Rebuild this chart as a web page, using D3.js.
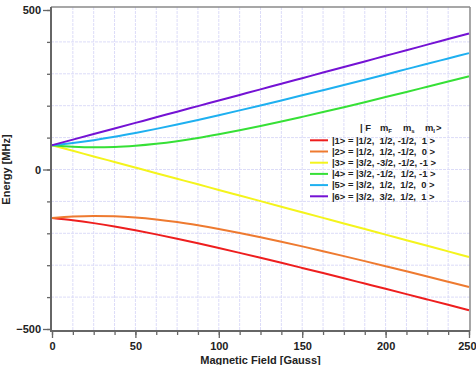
<!DOCTYPE html>
<html>
<head>
<meta charset="utf-8">
<script src="https://cdn.jsdelivr.net/npm/d3@7"></script>
<style>
  html, body { margin: 0; padding: 0; background: #fff; }
  svg { display: block; font-family: "Liberation Sans", Arial, sans-serif; }
</style>
</head>
<body>
<svg id="chart" width="476" height="365"></svg>
<script>
// Magnetic field values (Gauss)
const field = [0, 12.5, 25, 37.5, 50, 62.5, 75, 87.5, 100, 112.5, 125, 137.5, 150, 162.5, 175, 187.5, 200, 212.5, 225, 237.5, 250];
// Energies (MHz)
const state1 = [-152.1, -159.1, -168.1, -178.7, -190.5, -203.4, -217.1, -231.4, -246.2, -261.3, -276.8, -292.6, -308.6, -324.7, -341.0, -357.5, -374.0, -390.6, -407.4, -424.2, -441.0];
const state2 = [-152.1, -147.5, -145.6, -146.6, -150.3, -156.5, -164.8, -174.9, -186.3, -198.9, -212.3, -226.4, -241.0, -256.1, -271.5, -287.2, -303.1, -319.2, -335.4, -351.8, -368.3];
const state3 = [76.1, 58.6, 41.0, 23.5, 6.0, -11.5, -29.0, -46.5, -64.1, -81.6, -99.1, -116.6, -134.1, -151.6, -169.1, -186.7, -204.2, -221.7, -239.2, -256.7, -274.2];
const state4 = [76.1, 71.5, 69.6, 70.5, 74.2, 80.4, 88.7, 98.8, 110.3, 122.8, 136.3, 150.3, 165.0, 180.0, 195.4, 211.1, 227.0, 243.1, 259.4, 275.7, 292.3];
const state5 = [76.1, 83.0, 92.0, 102.6, 114.5, 127.3, 141.0, 155.3, 170.1, 185.3, 200.8, 216.5, 232.5, 248.7, 265.0, 281.4, 297.9, 314.6, 331.3, 348.1, 364.9];
const state6 = [76.1, 93.6, 111.1, 128.6, 146.1, 163.6, 181.2, 198.7, 216.2, 233.7, 251.2, 268.8, 286.3, 303.8, 321.3, 338.8, 356.3, 373.8, 391.4, 408.9, 426.4];

const seriesNames = ["|1> = |1/2,  1/2, -1/2,  1 >", "|2> = |1/2,  1/2, -1/2,  0 >", "|3> = |3/2, -3/2, -1/2, -1 >", "|4> = |3/2, -1/2,  1/2, -1 >", "|5> = |3/2,  1/2,  1/2,  0 >", "|6> = |3/2,  3/2,  1/2,  1 >"];
const seriesColors = ["#ee1e1e", "#ee7a30", "#f4f41c", "#36e036", "#1eb0f0", "#7412d4"];
const seriesValues = [state1, state2, state3, state4, state5, state6];

const xMajorTicks = [0, 50, 100, 150, 200, 250];
const xMinorTicks = d3.range(0, 250.1, 12.5);
const yMajorTicks = [-500, 0, 500];
const yMinorTicks = d3.range(-500, 500.1, 100);

const svg = d3.select("#chart");
const x = d3.scaleLinear().domain([0, 250]).range([52, 469]);
const y = d3.scaleLinear().domain([-500, 500]).range([329, 10]);
const plotL = 51, plotR = 470, plotT = 7, plotB = 331;

// grid
const grid = svg.append("g");
grid.selectAll(".vg").data(xMinorTicks.filter(d => d > 0 && d < 250)).join("line")
  .attr("x1", d => x(d)).attr("x2", d => x(d)).attr("y1", plotT).attr("y2", plotB)
  .attr("stroke", "#dcdcf8").attr("stroke-width", 1).attr("stroke-dasharray", "3,1");
grid.selectAll(".hg").data(yMinorTicks.filter(d => d > -500 && d < 500)).join("line")
  .attr("x1", plotL).attr("x2", plotR).attr("y1", d => y(d)).attr("y2", d => y(d))
  .attr("stroke", "#dcdcf8").attr("stroke-width", 1).attr("stroke-dasharray", "3,1");

// frame top/right
svg.append("line").attr("x1", plotL).attr("x2", plotR).attr("y1", plotT).attr("y2", plotT)
  .attr("stroke", "#8a8a8a").attr("stroke-width", 1.5);
svg.append("line").attr("x1", plotR).attr("x2", plotR).attr("y1", plotT).attr("y2", plotB)
  .attr("stroke", "#8a8a8a").attr("stroke-width", 1.5);

// curves
const line = d3.line().x((d, i) => x(field[i])).y(d => y(d)).curve(d3.curveMonotoneX);
seriesValues.forEach((vals, k) => {
  svg.append("path").datum(vals).attr("d", line).attr("fill", "none")
    .attr("stroke", seriesColors[k]).attr("stroke-width", 2);
});

// axes
const axisColor = "#666";
const xAxisMinor = svg.append("g").attr("transform", `translate(0,${plotB})`)
  .call(d3.axisBottom(x).tickValues(xMinorTicks).tickSize(4).tickFormat(""));
const xAxis = svg.append("g").attr("transform", `translate(0,${plotB})`)
  .call(d3.axisBottom(x).tickValues(xMajorTicks).tickSize(7).tickPadding(4).tickFormat(d3.format("d")));
const yAxisMinor = svg.append("g").attr("transform", `translate(${plotL},0)`)
  .call(d3.axisLeft(y).tickValues(yMinorTicks).tickSize(4).tickFormat(""));
const yAxis = svg.append("g").attr("transform", `translate(${plotL},0)`)
  .call(d3.axisLeft(y).tickValues(yMajorTicks).tickSize(8).tickPadding(2).tickFormat(d3.format("d")));
[xAxisMinor, xAxis, yAxisMinor, yAxis].forEach(g => {
  g.select(".domain").remove();
  g.selectAll(".tick line").attr("stroke", axisColor).attr("stroke-width", 1.3);
  g.selectAll("text").attr("font-size", 11).attr("font-weight", "bold").attr("fill", "#222")
    .attr("font-family", "'Liberation Sans', Arial, sans-serif");
});
// keep the last x label inside the window
xAxis.selectAll(".tick text").filter(d => d === 250).attr("text-anchor", "end").attr("x", 7);
svg.append("line").attr("x1", plotL).attr("x2", plotL).attr("y1", plotT).attr("y2", plotB + 1)
  .attr("stroke", axisColor).attr("stroke-width", 2);
svg.append("line").attr("x1", plotL).attr("x2", plotR).attr("y1", plotB).attr("y2", plotB)
  .attr("stroke", axisColor).attr("stroke-width", 2);

// axis titles
svg.append("text").attr("x", (x(0) + x(250)) / 2).attr("y", 364).attr("text-anchor", "middle")
  .attr("font-size", 11).attr("font-weight", "bold").attr("fill", "#222").text("Magnetic Field [Gauss]");
svg.append("text").attr("transform", `translate(10,${(y(500) + y(-500)) / 2}) rotate(-90)`)
  .attr("text-anchor", "middle").attr("font-size", 11).attr("font-weight", "bold").attr("fill", "#222")
  .text("Energy [MHz]");

// legend
const lg = svg.append("g").attr("font-size", 9.4).attr("font-weight", "bold").attr("fill", "#222");
const hdr = lg.append("text").attr("y", 131);
hdr.append("tspan").attr("x", 360).text("|  F");
hdr.append("tspan").attr("x", 380).text("m");
hdr.append("tspan").attr("font-size", 6).attr("dy", 2).text("F");
hdr.append("tspan").attr("x", 403).attr("dy", -2).text("m");
hdr.append("tspan").attr("font-size", 6).attr("dy", 2).text("s");
hdr.append("tspan").attr("x", 425).attr("dy", -2).text("m");
hdr.append("tspan").attr("font-size", 6).attr("dy", 2).text("I");
hdr.append("tspan").attr("x", 436).attr("dy", -2).text(">");
seriesNames.forEach((name, k) => {
  const yy = 140.3 + k * 11.2;
  lg.append("line").attr("x1", 310).attr("x2", 328).attr("y1", yy).attr("y2", yy)
    .attr("stroke", seriesColors[k]).attr("stroke-width", 2);
  lg.append("text").attr("x", 332).attr("y", yy + 3.3).attr("xml:space", "preserve")
    .style("white-space", "pre").text(name);
});
</script>
</body>
</html>
